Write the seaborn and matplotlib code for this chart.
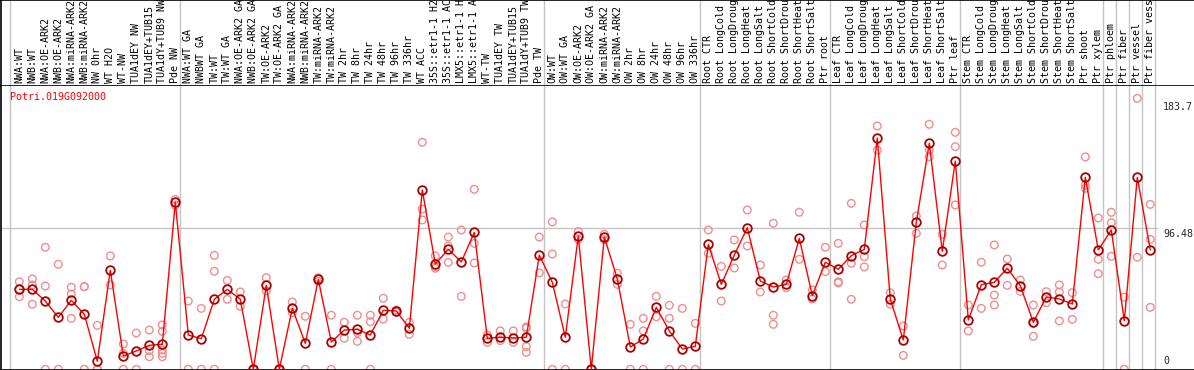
import numpy as np
import pandas as pd
import matplotlib
matplotlib.use("Agg")
import matplotlib.pyplot as plt
import seaborn as sns

gene = "Potri.019G092000"

samples = [
    "NWA:WT", "NWB:WT", "NWA:OE-ARK2", "NWB:OE-ARK2", "NWA:miRNA-ARK2", "NWB:miRNA-ARK2",
    "NW 0hr", "WT H2O", "WT-NW", "TUA1dEY NW", "TUA1dEY+TUB15", "TUA1dY+TUB9 NW", "Pde NW",
    "NWA:WT GA", "NWBWT GA", "TW:WT", "TW:WT GA", "NWA:OE-ARK2 GA", "NWB:OE-ARK2 GA",
    "TW:OE-ARK2", "TW:OE-ARK2 GA", "NWA:miRNA-ARK2", "NWB:miRNA-ARK2", "TW:miRNA-ARK2",
    "TW:miRNA-ARK2", "TW 2hr", "TW 8hr", "TW 24hr", "TW 48hr", "TW 96hr", "TW 336hr",
    "WT ACC", "35S::etr1-1 H2O", "35S::etr1-1 ACC", "LMX5::etr1-1 H2O", "LMX5::etr1-1 ACC",
    "WT-TW", "TUA1dEY TW", "TUA1dEY+TUB15", "TUA1dY+TUB9 TW", "Pde TW",
    "OW:WT", "OW:WT GA", "OW:OE-ARK2", "OW:OE-ARK2 GA", "OW:miRNA-ARK2", "OW:miRNA-ARK2",
    "OW 2hr", "OW 8hr", "OW 24hr", "OW 48hr", "OW 96hr", "OW 336hr",
    "Root CTR", "Root LongCold", "Root LongDrought", "Root LongHeat", "Root LongSalt",
    "Root ShortCold", "Root ShortDrought", "Root ShortHeat", "Root ShortSalt", "Ptr root",
    "Leaf CTR", "Leaf LongCold", "Leaf LongDrought", "Leaf LongHeat", "Leaf LongSalt",
    "Leaf ShortCold", "Leaf ShortDrought", "Leaf ShortHeat", "Leaf ShortSalt", "Ptr leaf",
    "Stem CTR", "Stem LongCold", "Stem LongDrought", "Stem LongHeat", "Stem LongSalt",
    "Stem ShortCold", "Stem ShortDrought", "Stem ShortHeat", "Stem ShortSalt", "Ptr shoot",
    "Ptr xylem", "Ptr phloem", "Ptr fiber", "Ptr vessel", "Ptr fiber vessel",
]

means = [
    54.6, 54.6, 46.6, 35.5, 47.1, 37.6, 5.5, 67.6, 9.1, 12.5, 16.4, 17.1, 114.0,
    23.4, 20.9, 47.8, 54.6, 47.8, 0, 57.3, 0, 41.6, 17.7, 61.4, 18.6, 26.8, 27.3,
    23.4, 40.3, 39.8, 28.0, 122.4, 71.9, 81.9, 73.3, 93.5, 21.2, 21.9, 21.4, 21.9, 78.0,
    59.4, 21.9, 91.0, 0, 90.3, 61.7, 15.2, 20.7, 42.3, 26.2, 13.9, 15.7,
    85.3, 58.0, 78.0, 96.7, 60.3, 56.2, 58.0, 89.4, 50.3, 73.1,
    68.3, 77.6, 81.9, 157.9, 47.8, 20.0, 100.4, 154.3, 80.6, 142.2,
    33.7, 57.8, 59.4, 69.0, 57.1, 32.1, 49.4, 48.0, 44.6, 131.1, 81.5,
    95.1, 33.2, 131.1, 81.5,
]

replicates = [
    [59.8, 54.6, 49.6], [61.7, 57.6, 44.4], [83.3, 56.9, 0], [71.7, 0], [56.0, 51.4, 34.8],
    [56.4, 56.4, 0], [30.0, 0, 0], [77.4, 57.6], [17.3, 10.9, 0], [24.8, 0],
    [26.8, 12.7, 8.6], [30.3, 25.9, 13.2, 10.9, 8.6], [116.0, 112.0],
    [46.6, 0], [41.6, 0], [77.8, 66.9, 0], [60.7, 47.8], [52.8, 43.0], [0, 0],
    [62.6, 53.5], [0, 0], [46.0, 38.7], [36.2, 0], [62.5, 60.0], [36.9, 0],
    [32.1, 21.2], [36.9, 25.0, 19.1], [36.9, 32.5, 0], [48.5, 34.3], [40.5, 39.0],
    [32.1, 23.9], [155.0, 109.4, 102.0], [77.4, 70.1, 69.0], [90.3, 84.2, 73.0],
    [95.1, 49.8], [122.9, 86.0, 72.6], [23.4, 18.4], [26.2, 19.6], [26.2, 18.4],
    [28.9, 28.0, 15.5, 11.6], [90.3, 65.8],
    [100.6, 78.7, 0], [44.6, 0], [94.0, 88.7], [0, 0], [92.2, 88.5], [65.5, 58.0],
    [30.7, 0], [34.8, 26.2, 0], [49.8, 35.9], [43.7, 34.8, 0], [41.6, 0], [31.4, 0],
    [95.1, 79.2], [70.3, 46.6], [88.3, 69.2], [108.8, 84.2], [71.2, 52.8],
    [99.7, 36.9, 30.7], [61.0, 55.7], [107.2, 75.1], [54.2, 48.0], [83.3, 66.7],
    [86.0, 59.8, 59.0], [113.3, 72.4, 47.8], [98.5, 76.9, 69.9], [166.1, 149.7],
    [52.3, 44.4], [29.6, 9.5], [104.7, 92.8], [167.3, 149.7, 145.2], [92.2, 71.2],
    [161.8, 152.0, 112.2],
    [43.9, 26.2], [73.1, 41.6], [84.9, 50.7, 43.9], [75.3, 57.3], [61.0, 53.2],
    [43.9, 31.4, 22.5], [53.0, 45.5], [57.6, 52.8, 33.0], [52.3, 34.1],
    [145.0, 125.8, 123.6], [103.3, 75.1, 65.3],
    [107.2, 100.1, 77.1], [49.2, 0], [185.0, 76.5], [112.6, 88.7, 42.3],
]

# group separators sit after these sample numbers
group_ends = [13, 41, 53, 63, 73, 84, 85, 86, 87, 88]
y_ticks = [0, 96.48, 183.7]

mean_df = pd.DataFrame({"idx": np.arange(len(samples)), "value": means})
rep_df = pd.DataFrame(
    [(i, v) for i, reps in enumerate(replicates) for v in reps], columns=["idx", "value"]
)

sns.set_style("white")
plt.rcParams["font.family"] = ["DejaVu Sans Mono"]

W, H = 1194, 370
fig = plt.figure(figsize=(W / 100, H / 100), dpi=100)

# pixel layout: column i sits at x = 19.3 + 13*i
x0, pitch = 19.3, 13.0
xlim = ((1 - x0) / pitch, (W - x0) / pitch)
px_per_unit = 1.4646
y_zero = 369.3
lab_bottom = 86
ax_lab = fig.add_axes([1 / W, 1 - lab_bottom / H, 1 - 1 / W, lab_bottom / H])
ax = fig.add_axes([1 / W, 0.5 / H, 1 - 1 / W, (369.5 - lab_bottom) / H])

ylim = ((y_zero - 369.5) / px_per_unit, (y_zero - lab_bottom) / px_per_unit)

grey = "#c4c4c4"
seps = [-0.69] + [e - 1 + 0.385 for e in group_ends]

# label strip (long names run off the top, like the original)
ax_lab.set_xlim(xlim)
ax_lab.set_ylim(lab_bottom, 0)
for i, s in enumerate(samples):
    ax_lab.text(i, 83, s, rotation=90, ha="center", va="bottom", fontsize=7.2,
                color="black", clip_on=True)
for s in seps:
    ax_lab.axvline(s, color=grey, lw=1)
ax_lab.set_xticks([])
ax_lab.set_yticks([])
for side in ["left", "top", "bottom"]:
    ax_lab.spines[side].set_color("black")
    ax_lab.spines[side].set_linewidth(1.2)
ax_lab.spines["right"].set_visible(False)

# data panel
for s in seps:
    ax.axvline(s, color=grey, lw=1, zorder=1)
ax.hlines(96.48, xlim[0], (1158 - x0) / pitch, color=grey, lw=1, zorder=1)

sns.scatterplot(data=rep_df, x="idx", y="value", ax=ax, s=30, marker="o",
                facecolors="none", edgecolor="#ee8e8e", linewidth=1.0, zorder=2)
sns.lineplot(data=mean_df, x="idx", y="value", ax=ax, color="red", lw=1,
             marker="o", markersize=6.2, markerfacecolor="none",
             markeredgecolor="#a80000", markeredgewidth=1.3, zorder=3)

ax.set_xlim(xlim)
ax.set_ylim(ylim)
ax.set_xticks([])
ax.set_yticks([])
ax.set_xlabel("")
ax.set_ylabel("")
ax.spines["top"].set_visible(False)
ax.spines["right"].set_visible(False)
for side in ["left", "bottom"]:
    ax.spines[side].set_color("black")
    ax.spines[side].set_linewidth(1.2)

ax.text(-0.715, (y_zero - 92) / px_per_unit, gene, color="red", fontsize=7.2,
        ha="left", va="top")

lab_x = (1163 - x0) / pitch
ax.text(lab_x, y_ticks[2] - 1.5, "183.7", fontsize=7.2, ha="left", va="top")
ax.text(lab_x, y_ticks[1] - 0.5, "96.48", fontsize=7.2, ha="left", va="top")
ax.text(lab_x, y_ticks[0] + 2.5, "0", fontsize=7.2, ha="left", va="bottom")

fig.savefig("out.png", dpi=100)
